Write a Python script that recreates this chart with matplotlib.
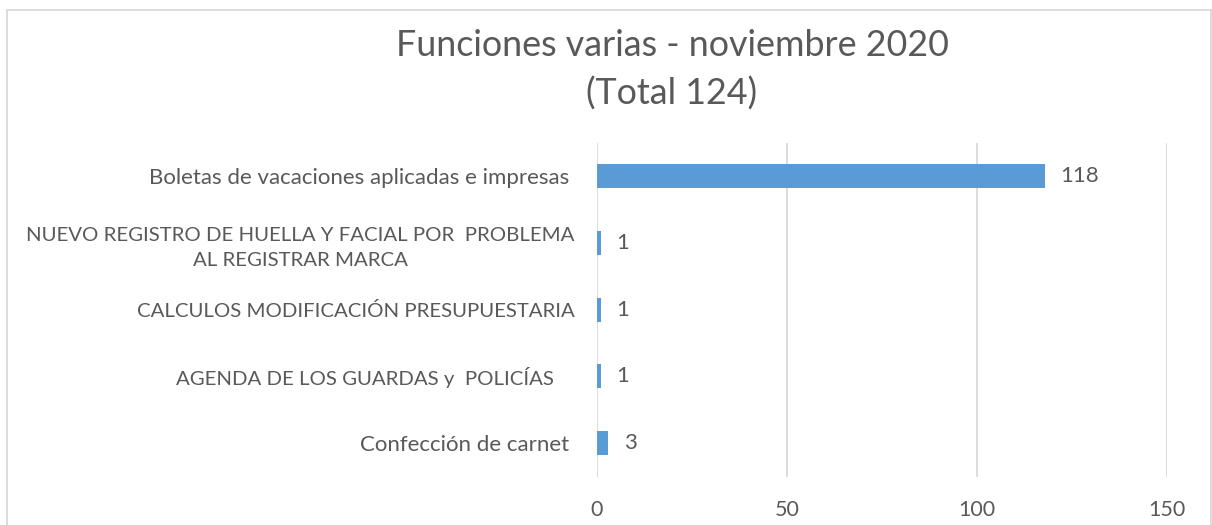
import matplotlib
matplotlib.use("Agg")
import matplotlib.pyplot as plt
from matplotlib.patches import Rectangle

categories = [
    "Boletas de vacaciones aplicadas e impresas ",
    "NUEVO REGISTRO DE HUELLA Y FACIAL POR  PROBLEMA\nAL REGISTRAR MARCA",
    "CALCULOS MODIFICACIÓN PRESUPUESTARIA",
    "AGENDA DE LOS GUARDAS y  POLICÍAS    ",
    "Confección de carnet ",
]
values = [118, 1, 1, 1, 3]
xticks = [0, 50, 100, 150]
title = "Funciones varias - noviembre 2020\n(Total 124)"

W, H = 1212, 525
fig = plt.figure(figsize=(W / 100, H / 100), dpi=100)
plt.rcParams['font.family'] = ['Lato', 'DejaVu Sans']

text_color = "#595959"
grid_color = "#D9D9D9"
bar_color = "#5B9BD5"

# outer border
fig.patches.append(Rectangle((6.5 / W, -0.05), (1211 - 6.5) / W, 1 - 9.5 / H + 0.05,
                             transform=fig.transFigure, fill=False,
                             edgecolor=grid_color, linewidth=1.3))

left, right = 597 / W, 1167 / W
bottom, top = 1 - 476.5 / H, 1 - 142.6 / H
ax = fig.add_axes([left, bottom, right - left, top - bottom])

y = list(range(len(categories)))
ax.barh(y, values, height=0.36, color=bar_color, zorder=3)
ax.set_ylim(len(categories) - 0.5, -0.5)
ax.set_xlim(0, 150)
ax.set_xticks(xticks)
ax.set_xticklabels([str(t) for t in xticks], color=text_color, fontsize=15.5)
ax.set_yticks(y)
ax.set_yticklabels(categories, color=text_color, fontsize=16)
for lbl in ax.get_yticklabels():
    lbl.set_horizontalalignment('right')
    lbl.set_multialignment('center')
    txt = lbl.get_text()
    if txt.startswith(("NUEVO", "CALCULOS", "AGENDA")):
        lbl.set_fontsize(14.7)
    if "\n" in txt:
        lbl.set_linespacing(1.55)
ax.tick_params(axis='y', length=0, pad=16)
ax.tick_params(axis='x', length=0, pad=17)

ax.grid(axis='x', color=grid_color, linewidth=1.3, zorder=0)
for s in ax.spines.values():
    s.set_visible(False)

for yi, v in zip(y, values):
    ax.text(v + 4, yi, str(v), va='center', ha='left', color=text_color, fontsize=16)

fig.text(672 / W, 1 - 70 / H, title, ha='center', va='center', color=text_color,
         fontsize=25.8, linespacing=1.5)

fig.savefig("out.png", dpi=100)
